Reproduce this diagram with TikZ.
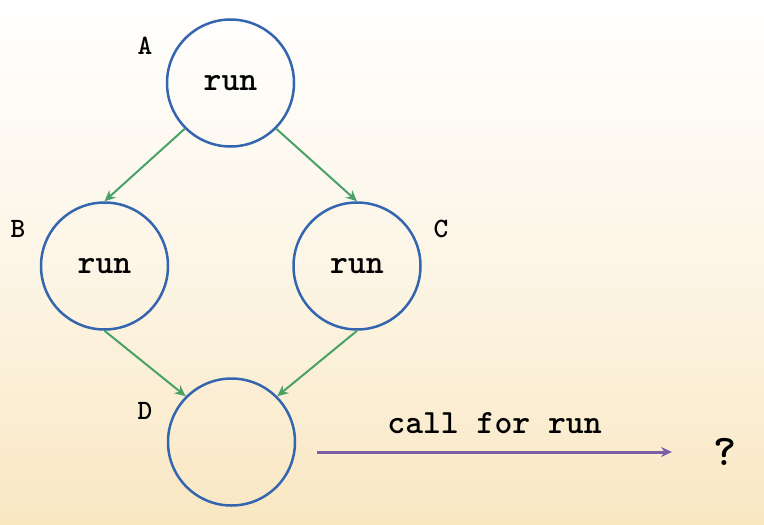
\documentclass[tikz,border=0pt]{standalone}
\usepackage{xcolor}
\definecolor{azulc}{RGB}{52, 102, 176}
\definecolor{verdes}{RGB}{72, 162, 104}
\definecolor{morados}{RGB}{122, 94, 166}
\definecolor{durazno}{RGB}{249, 231, 194}
\usepackage{tikz}
\usetikzlibrary{shapes, arrows, positioning, arrows.meta}

\begin{document}
\begin{tikzpicture}[x=0.5pt, y=-0.5pt,
    nodo/.style={circle, draw=azulc, line width=1.25pt, minimum size=63.5pt, inner sep=0pt,
                 font=\ttfamily\bfseries\fontsize{17}{19}\selectfont},
    etiqueta/.style={font=\ttfamily\bfseries\fontsize{14}{16}\selectfont},
    flecha/.style={-{Stealth[length=5.5pt, width=5pt]}, verdes, line width=1pt}]
            % Fondo
            \shade[top color=white, bottom color=durazno, middle color=durazno!40]
                (0,0) rectangle (764,524);
            \useasboundingbox (0,0) rectangle (764,524);

            % Nodos
            \node[nodo] (A) at (230.5,83) {run};
            \node[nodo] (B) at (104.5,266) {run};
            \node[nodo] (C) at (357,266) {run};
            \node[nodo] (D) at (231.5,442) {};

            % Etiquetas
            \node[etiqueta] (lA) at (145,46) {A};
            \node[etiqueta] (lB) at (18,229) {B};
            \node[etiqueta] (lC) at (441,229) {C};
            \node[etiqueta] (lD) at (145,411) {D};

            % Flechas
            \draw[flecha] (A.south west) -- (B.north);
            \draw[flecha] (A.south east) -- (C.north);
            \draw[flecha] (B.south) -- (D.north west);
            \draw[flecha] (C.south) -- (D.north east);

            % Llamada
            \coordinate (p) at (317,452);
            \coordinate (r) at (672,452);
            \node[font=\ttfamily\bfseries\fontsize{22}{25}\selectfont] (q) at (725,452) {?};
            \draw[-{Stealth[length=5.5pt, width=5pt]}, morados, line width=1.5pt] (p) -- (r)
                node[midway, above=5pt, black, font=\ttfamily\bfseries\fontsize{17}{19}\selectfont] (t) {call for run};
        \end{tikzpicture}
\end{document}
